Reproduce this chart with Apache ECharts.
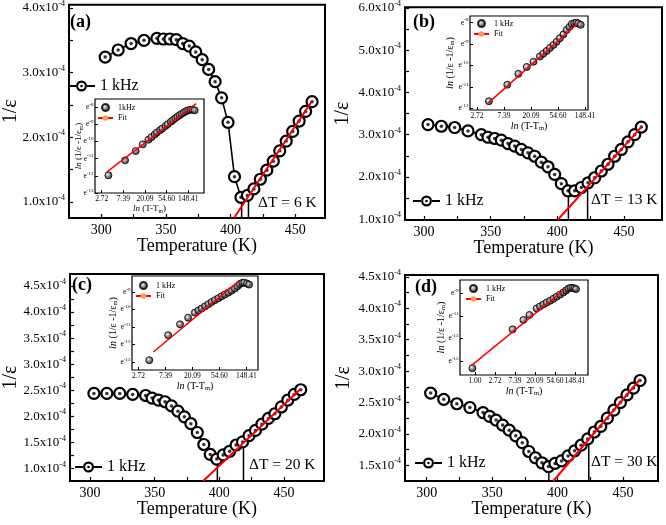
<!DOCTYPE html>
<html>
<head>
<meta charset="utf-8">
<script src="https://cdn.jsdelivr.net/npm/echarts@6.0.0/dist/echarts.min.js"></script>
<style>html,body{margin:0;padding:0;background:#fff;}#chart{width:666px;height:525px;}</style>
</head>
<body>
<div id="chart"></div>
<script>
// ---------------- data (1/eps in units of 1e-4) ----------------
const temperatures = [303,313,323,333,343,348,353,358,363,368,373,378,383,388,393,398,403,408,413,418,423,428,433,438,443,448,453,458,463];
const invEpsA = [3.24,3.35,3.45,3.50,3.53,3.52,3.52,3.51,3.45,3.41,3.32,3.20,3.05,2.86,2.61,2.23,1.39,1.07,1.10,1.20,1.35,1.49,1.63,1.79,1.94,2.09,2.25,2.40,2.55];
const invEpsB = [3.24,3.20,3.17,3.09,3.00,2.94,2.91,2.87,2.79,2.73,2.65,2.57,2.49,2.35,2.24,2.06,1.84,1.67,1.67,1.75,1.86,1.98,2.14,2.30,2.49,2.65,2.83,3.00,3.18];
const invEpsC = [2.44,2.44,2.44,2.42,2.40,2.35,2.31,2.28,2.20,2.10,1.99,1.86,1.69,1.46,1.27,1.18,1.26,1.33,1.45,1.51,1.63,1.73,1.85,1.96,2.05,2.18,2.31,2.42,2.51];
const invEpsD = [2.65,2.55,2.48,2.42,2.34,2.28,2.22,2.14,2.06,1.97,1.86,1.72,1.62,1.54,1.48,1.53,1.57,1.65,1.73,1.82,1.92,2.03,2.12,2.25,2.38,2.50,2.62,2.73,2.85];

// linear Curie-Weiss fits [T, 1/eps]
const fitA = [[402.6,0.75],[463,2.56]];
const fitB = [[400.2,0.98],[463,3.18]];
const fitC = [[387.5,0.76],[463,2.53]];
const fitD = [[396.7,1.25],[463,2.87]];

// vertical marker lines [T, top value]
const tmLinesA = [[408.5,1.07],[413.8,1.10]];
const tmLinesB = [[408.3,1.67],[422.7,1.84]];
const tmLinesC = [[398.5,1.18],[418.7,1.52]];
const tmLinesD = [[393.3,1.48],[423.8,1.92]];

// insets: ln(T-Tm) vs ln(1/eps - 1/eps_m)
const lnDtA  = [1.31,2.08,2.57,2.90,3.16,3.30,3.45,3.55,3.70,3.80,3.95,4.05,4.20,4.30,4.40,4.50,4.60,4.70,4.80,4.90,5.00,5.10,5.20,5.30];
const lnInvA = [-11.97,-11.10,-10.56,-10.17,-9.90,-9.75,-9.60,-9.48,-9.34,-9.25,-9.10,-9.00,-8.85,-8.75,-8.65,-8.56,-8.47,-8.39,-8.31,-8.24,-8.19,-8.16,-8.15,-8.19];
const lnDtB  = [1.44,2.12,2.53,2.84,3.09,3.33,3.45,3.58,3.70,3.83,3.95,4.07,4.20,4.32,4.42,4.51,4.60,4.68,4.75,4.84];
const lnInvB = [-11.67,-10.90,-10.39,-10.07,-9.83,-9.58,-9.45,-9.32,-9.18,-9.04,-8.89,-8.73,-8.55,-8.34,-8.20,-8.06,-8.02,-8.00,-8.04,-8.10];
const lnDtC  = [1.40,2.10,2.54,2.84,3.09,3.22,3.34,3.47,3.59,3.71,3.83,3.96,4.08,4.20,4.33,4.45,4.57,4.67,4.76,4.85,4.92,5.02,5.10];
const lnInvC = [-12.90,-11.47,-10.85,-10.47,-10.18,-10.06,-9.95,-9.82,-9.70,-9.58,-9.47,-9.36,-9.25,-9.15,-9.04,-8.93,-8.81,-8.68,-8.55,-8.48,-8.47,-8.52,-8.58];
const lnDtD  = [-0.13,1.88,2.42,2.72,3.08,3.25,3.42,3.58,3.75,3.92,4.08,4.25,4.42,4.55,4.67,4.78,4.88,4.97,5.05];
const lnInvD = [-15.64,-12.19,-11.35,-10.91,-10.33,-10.15,-9.97,-9.81,-9.65,-9.47,-9.29,-9.10,-8.91,-8.73,-8.56,-8.50,-8.50,-8.55,-8.61];
const fitInA = [[1.23,-11.78],[5.37,-7.80]];
const fitInB = [[1.42,-11.75],[4.71,-8.06]];
const fitInC = [[1.55,-12.43],[4.73,-8.37]];
const fitInD = [[-0.17,-15.40],[4.50,-8.61]];

// ticks & labels
const tempTickLabels = [300,350,400,450];
const tempTicks = [300,325,350,375,400,425,450];
const yLabelsA = [1,2,3,4];
const yTicksA = [1,1.5,2,2.5,3,3.5,4];
const yLabelsB = [1,2,3,4,5,6];
const yTicksB = [1,1.5,2,2.5,3,3.5,4,4.5,5,5.5,6];
const yLabelsC = [1,1.5,2,2.5,3,3.5,4,4.5];
const yTicksC = [1,1.25,1.5,1.75,2,2.25,2.5,2.75,3,3.25,3.5,3.75,4,4.25,4.5];
const yLabelsD = [1.5,2,2.5,3,3.5,4,4.5];
const yTicksD = [1.5,1.75,2,2.25,2.5,2.75,3,3.25,3.5,3.75,4,4.25,4.5];
const lnTickLabels = ['1.00','2.72','7.39','20.09','54.60','148.41'];
const inYTicksA = [-13,-12,-11,-10,-9,-8];
const inYTicksB = [-12,-11,-10,-9,-8];
const inYTicksC = [-13,-12,-11,-10,-9];
const inYTicksD = [-15,-13,-11,-9];
const inXTicks = [1,2,3,4,5];
const inXTicksD = [0,1,2,3,4,5];
const panelTags = ['(a)','(b)','(c)','(d)'];
const dtTexts = ['\u0394T = 6 K','\u0394T = 13 K','\u0394T = 20 K','\u0394T = 30 K'];
const mainName = '1 kHz';
const insetNames = ['1kHz','1 kHz ','1 kHz ','1 kHz '];

// ---------------- layout ----------------
const SERIF = 'Liberation Serif';
const panels = [
  {inv:invEpsA, fit:fitA, tm:tmLinesA, grid:{left:66,top:3,width:259,height:215}, x:[275,473], y:[0.75,4.05], yl:yLabelsA, yt:yTicksA, yGap:48, leg:{left:68,top:78}, tag:{left:70,top:13}, dt:{left:258,top:195},
   inset:{lx:lnDtA, ly:lnInvA, fit:fitInA, grid:{left:95,top:99,width:109,height:94}, x:[0.69,5.73], y:[-13,-7.53], xt:inXTicks, yt:inYTicksA, yGap:11, fs:9, leg:{left:97,top:103}}},
  {inv:invEpsB, fit:fitB, tm:tmLinesB, grid:{left:405,top:6,width:257,height:214}, x:[285.75,478.5], y:[0.98,6.02], yl:yLabelsB, yt:yTicksB, yGap:52, leg:{left:413,top:193}, tag:{left:413,top:13}, dt:{left:591,top:192},
   inset:{lx:lnDtB, ly:lnInvB, fit:fitInB, grid:{left:470,top:16,width:118,height:94}, x:[0.74,5.11], y:[-12.08,-7.69], xt:inXTicks, yt:inYTicksB, yGap:14, fs:10, leg:{left:473,top:19}}},
  {inv:invEpsC, fit:fitC, tm:tmLinesC, grid:{left:67,top:274,width:257,height:207}, x:[284.5,481], y:[0.76,4.73], yl:yLabelsC, yt:yTicksC, yGap:49, leg:{left:75,top:459}, tag:{left:72,top:276}, dt:{left:249,top:457},
   inset:{lx:lnDtC, ly:lnInvC, fit:fitInC, grid:{left:132,top:276,width:126,height:94}, x:[0.76,5.43], y:[-13.46,-8.09], xt:inXTicks, yt:inYTicksC, yGap:13, fs:10, leg:{left:135,top:281}}},
  {inv:invEpsD, fit:fitD, tm:tmLinesD, grid:{left:405,top:275,width:253,height:206}, x:[283.4,476.7], y:[1.25,4.53], yl:yLabelsD, yt:yTicksD, yGap:51, leg:{left:415,top:455}, tag:{left:415,top:278}, dt:{left:591,top:454},
   inset:{lx:lnDtD, ly:lnInvD, fit:fitInD, grid:{left:460,top:280,width:128,height:95}, x:[-0.75,5.65], y:[-16.25,-7.8], xt:inXTicksD, yt:inYTicksD, yGap:13, fs:10, leg:{left:465,top:284}}}
];

const grids = [], xAxes = [], yAxes = [], series = [], legends = [], titles = [];
const black = '#000';
const ballColor = {type:'radial', x:0.4, y:0.4, r:0.65, colorStops:[{offset:0,color:'#f2f2f2'},{offset:0.45,color:'#666'},{offset:1,color:'#000'}]};
// legend icon: line - ring with centre dot - line
const ringIcon = 'path://M0,4.4h8.3v2.2h-8.3z M18.7,4.4h8.3v2.2h-8.3z M8,5.5a5.5,5.5 0 1,0 11,0a5.5,5.5 0 1,0 -11,0z M10.2,5.5a3.3,3.3 0 1,1 6.6,0a3.3,3.3 0 1,1 -6.6,0z M12.2,5.5a1.3,1.3 0 1,0 2.6,0a1.3,1.3 0 1,0 -2.6,0z';

panels.forEach((p, k) => {
  const gi = grids.length;
  grids.push(Object.assign({show:true, borderColor:black, borderWidth:2, backgroundColor:'transparent'}, p.grid));
  xAxes.push({
    gridIndex:gi, type:'value', min:p.x[0], max:p.x[1],
    axisLine:{show:false, onZero:false}, splitLine:{show:false},
    axisTick:{show:true, inside:true, length:4, lineStyle:{color:black, width:1.2}, customValues:tempTicks},
    axisLabel:{customValues:tempTickLabels, hideOverlap:false, fontFamily:SERIF, fontSize:14, color:black, margin:5},
    name:'Temperature (K)', nameLocation:'middle', nameGap:19, nameMoveOverlap:false,
    nameTextStyle:{fontFamily:SERIF, fontSize:18, color:black}
  });
  yAxes.push({
    gridIndex:gi, type:'value', min:p.y[0], max:p.y[1],
    axisLine:{show:false, onZero:false}, splitLine:{show:false},
    axisTick:{show:true, inside:true, length:4, lineStyle:{color:black, width:1.2}, customValues:p.yt},
    axisLabel:{customValues:p.yl, hideOverlap:false, color:black, margin:4,
      formatter:v => '{m|' + v.toFixed(1) + 'x10}{s|-4}',
      rich:{m:{fontFamily:SERIF, fontSize:13, color:black}, s:{fontFamily:SERIF, fontSize:8, color:black, padding:[0,0,8,0]}}},
    name:'1/\u03b5', nameLocation:'middle', nameRotate:90, nameGap:p.yGap, nameMoveOverlap:false,
    nameTextStyle:{fontFamily:SERIF, fontSize:20, color:black}
  });
  const pts = temperatures.map((t,i) => [t, p.inv[i]]);
  p.tm.forEach(m => {
    series.push({type:'line', xAxisIndex:gi, yAxisIndex:gi, data:[[m[0], p.y[0]-1],[m[0], m[1]]], symbol:'none', clip:true,
      lineStyle:{color:black, width:1.5}, z:1, silent:true});
  });
  series.push({type:'line', name:mainName, xAxisIndex:gi, yAxisIndex:gi, data:pts, symbol:'circle', symbolSize:11,
    itemStyle:{color:'#fff', borderColor:black, borderWidth:2.2}, lineStyle:{color:black, width:1.6}, z:2});
  series.push({type:'scatter', name:'dot'+k, xAxisIndex:gi, yAxisIndex:gi, data:pts, symbol:'circle', symbolSize:3.5,
    itemStyle:{color:black}, z:3, silent:true});
  series.push({type:'line', name:'fitMain'+k, xAxisIndex:gi, yAxisIndex:gi, data:p.fit, symbol:'none', clip:true,
    lineStyle:{color:'#ff0000', width:2}, z:4});
  legends.push({data:[{name:mainName, icon:ringIcon, itemStyle:{color:black, borderWidth:0}}], left:p.leg.left, top:p.leg.top, padding:0, itemWidth:27, itemHeight:11, itemGap:0,
    textStyle:{fontFamily:SERIF, fontSize:16, color:black}, selectedMode:false});
  titles.push({text:panelTags[k], left:p.tag.left, top:p.tag.top, padding:0, textStyle:{fontFamily:SERIF, fontSize:18, fontWeight:'bold', color:black}});
  titles.push({text:dtTexts[k], left:p.dt.left, top:p.dt.top, padding:0, textStyle:{fontFamily:SERIF, fontSize:15.5, fontWeight:'normal', color:black}});

  // inset
  const q = p.inset;
  const ii = grids.length;
  grids.push(Object.assign({show:true, borderColor:black, borderWidth:1.2, backgroundColor:'#fff'}, q.grid));
  xAxes.push({
    gridIndex:ii, type:'value', min:q.x[0], max:q.x[1],
    axisLine:{show:false, onZero:false}, splitLine:{show:false},
    axisTick:{show:true, inside:true, length:3, lineStyle:{color:black, width:1}, customValues:q.xt},
    axisLabel:{customValues:q.xt, hideOverlap:false, interval:0, formatter:v => lnTickLabels[Math.round(v)], fontFamily:SERIF, fontSize:7.5, color:black, margin:2},
    name:'{i|ln} (T-T{s|m})', nameLocation:'middle', nameGap:10, nameMoveOverlap:false,
    nameTextStyle:{fontFamily:SERIF, fontSize:q.fs, color:black,
      rich:{i:{fontFamily:SERIF, fontStyle:'italic', fontSize:q.fs, color:black}, s:{fontFamily:SERIF, fontSize:q.fs*0.65, color:black, padding:[5,0,0,0]}}}
  });
  yAxes.push({
    gridIndex:ii, type:'value', min:q.y[0], max:q.y[1],
    axisLine:{show:false, onZero:false}, splitLine:{show:false},
    axisTick:{show:true, inside:true, length:3, lineStyle:{color:black, width:1}, customValues:q.yt},
    axisLabel:{customValues:q.yt, hideOverlap:false, interval:0, showMinLabel:true, showMaxLabel:true, color:black, margin:1.5,
      formatter:v => '{e|e}{s|' + v + '}',
      rich:{e:{fontFamily:SERIF, fontSize:7.5, color:black}, s:{fontFamily:SERIF, fontSize:5, color:black, padding:[0,0,5,0]}}},
    name:'{i|ln} (1/\u03b5 -1/\u03b5{s|m})', nameLocation:'middle', nameRotate:90, nameGap:q.yGap, nameMoveOverlap:false,
    nameTextStyle:{fontFamily:SERIF, fontSize:q.fs, color:black,
      rich:{i:{fontFamily:SERIF, fontStyle:'italic', fontSize:q.fs, color:black}, s:{fontFamily:SERIF, fontSize:q.fs*0.65, color:black, padding:[5,0,0,0]}}}
  });
  const ipts = q.lx.map((x,i) => [x, q.ly[i]]);
  series.push({type:'scatter', name:insetNames[k], xAxisIndex:ii, yAxisIndex:ii, data:ipts, symbol:'circle', symbolSize:7,
    itemStyle:{color:ballColor, borderColor:black, borderWidth:1}, z:5});
  series.push({type:'line', name:'Fit', xAxisIndex:ii, yAxisIndex:ii, data:q.fit, symbol:'none', clip:true,
    lineStyle:{color:'#ff0000', width:1.5}, z:6});
  legends.push({data:[insetNames[k], 'Fit'], orient:'vertical', left:q.leg.left, top:q.leg.top, padding:0, itemWidth:15, itemHeight:7, itemGap:2,
    textStyle:{fontFamily:SERIF, fontSize:8, color:black}, selectedMode:false});
});

const chart = echarts.init(document.getElementById('chart'), null, {renderer:'canvas', width:666, height:525});
chart.setOption({
  animation:false,
  backgroundColor:'#fff',
  title:titles,
  legend:legends,
  grid:grids,
  xAxis:xAxes,
  yAxis:yAxes,
  series:series
});
</script>
</body>
</html>
